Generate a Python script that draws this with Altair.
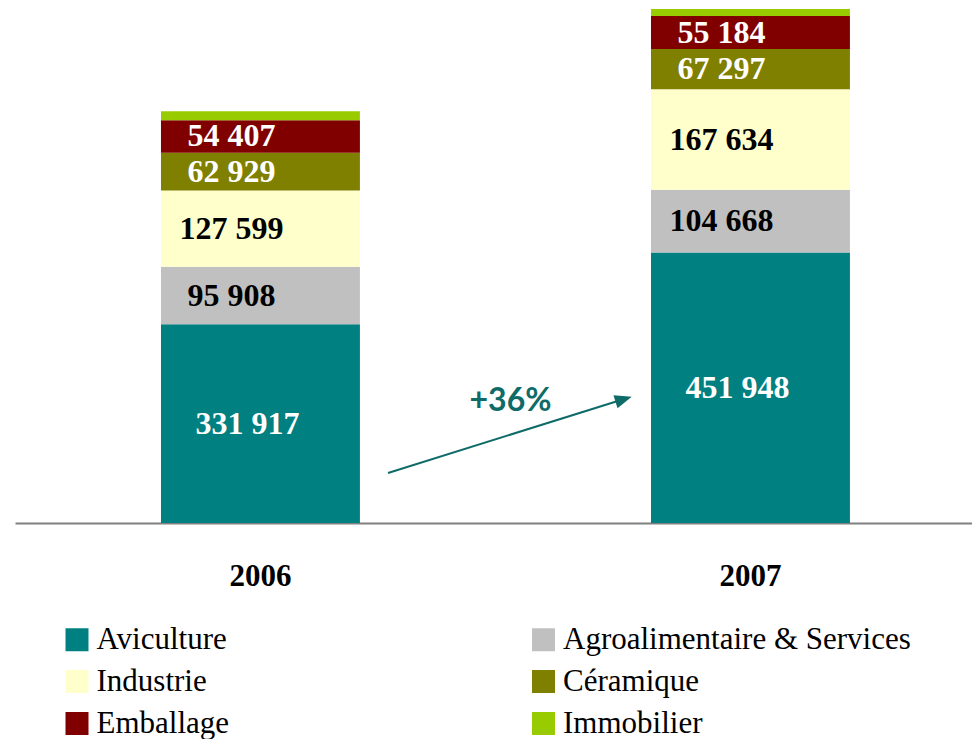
import altair as alt
import pandas as pd

years = ["2006", "2007"]
categories = ["Aviculture", "Agroalimentaire & Services", "Industrie",
              "Céramique", "Emballage", "Immobilier"]
colors = ["#008080", "#C0C0C0", "#FFFFCC", "#808000", "#800000", "#99CC00"]
values_2006 = [331917, 95908, 127599, 62929, 54407, 15000]
values_2007 = [451948, 104668, 167634, 67297, 55184, 11700]
labelled = ["Aviculture", "Agroalimentaire & Services", "Industrie", "Céramique", "Emballage"]
growth_label = "+36%"

rows = []
for year, vals in zip(years, [values_2006, values_2007]):
    for i, (cat, v) in enumerate(zip(categories, vals)):
        rows.append({
            "year": year, "category": cat, "value": v, "idx": i,
            "label": f"{v:,}".replace(",", " ") if cat in labelled else "",
        })
df = pd.DataFrame(rows)

x_scale = alt.Scale(domain=years, paddingInner=0.594, paddingOuter=0.2735, align=0.5446)
y_scale = alt.Scale(nice=False, zero=True)

base = alt.Chart(df).transform_stack(
    stack="value", groupby=["year"], as_=["y0", "y1"],
    sort=[alt.SortField("idx", order="ascending")]
).transform_calculate(mid="(datum.y0 + datum.y1) / 2")

bars = base.mark_bar(strokeWidth=0).encode(
    x=alt.X("year:N", scale=x_scale, title=None,
            axis=alt.Axis(labelAngle=0, labelFont="Liberation Serif", labelFontSize=31,
                          labelFontWeight="bold", labelColor="black", ticks=False,
                          domainColor="#808080", domainWidth=2, labelPadding=38)),
    y=alt.Y("y0:Q", scale=y_scale, axis=None),
    y2="y1:Q",
    color=alt.Color("category:N", scale=alt.Scale(domain=categories, range=colors),
                    legend=alt.Legend(title=None, orient="none", legendX=46.5, legendY=615,
                                      direction="horizontal", columns=2, padding=0,
                                      symbolType="square", symbolSize=529,
                                      symbolStrokeWidth=0, symbolOpacity=1,
                                      labelFont="Liberation Serif", labelFontSize=31,
                                      labelColor="black", labelOffset=4, labelLimit=1000,
                                      rowPadding=10, columnPadding=298.5)),
    order=alt.Order("idx:Q", sort="ascending"),
)

text_color = alt.condition(
    alt.FieldOneOfPredicate(field="category", oneOf=["Industrie", "Agroalimentaire & Services"]),
    alt.value("black"), alt.value("white"))

labels_main = base.transform_filter(
    alt.FieldOneOfPredicate(field="category",
                            oneOf=["Agroalimentaire & Services", "Industrie", "Céramique", "Emballage"])
).mark_text(font="Liberation Serif", fontSize=32, fontWeight="bold", dx=-29,
            baseline="middle").encode(
    x=alt.X("year:N", scale=x_scale),
    y=alt.Y("mid:Q", scale=y_scale),
    text="label:N",
    color=text_color,
)

labels_avi = base.transform_filter(
    alt.FieldEqualPredicate(field="category", equal="Aviculture")
).mark_text(font="Liberation Serif", fontSize=32, fontWeight="bold", dx=-13,
            baseline="middle", color="white").encode(
    x=alt.X("year:N", scale=x_scale),
    y=alt.Y("mid:Q", scale=y_scale),
    text="label:N",
)

one = pd.DataFrame({"k": [0]})
arrow_line = alt.Chart(one).mark_rule(color="#0E6B68", strokeWidth=2).encode(
    x=alt.value(373), y=alt.value(464), x2=alt.value(606), y2=alt.value(391))
arrow_head = alt.Chart(one).mark_point(
    shape="M 1 0 L -1 -0.8 L -1 0.8 Z", filled=True, size=289, angle=342.5,
    color="#0E6B68", opacity=1, strokeWidth=0).encode(
    x=alt.value(608.6), y=alt.value(390.3))
growth = alt.Chart(pd.DataFrame({"t": [growth_label]})).mark_text(
    font="Lato", fontSize=32, fontWeight="bold", color="#0E6B68",
    align="center", baseline="middle").encode(
    x=alt.value(495.5), y=alt.value(392), text="t:N")

chart = alt.layer(bars, labels_main, labels_avi, arrow_line, arrow_head, growth).properties(
    width=957, height=514,
    padding={"left": 7, "top": 1, "right": 0, "bottom": 216},
    autosize=alt.AutoSizeParams(type="none"),
).configure_view(stroke=None).configure_legend(labelFont="Liberation Serif")

chart.save("out.html", embed_options={"renderer": "svg", "actions": False})
